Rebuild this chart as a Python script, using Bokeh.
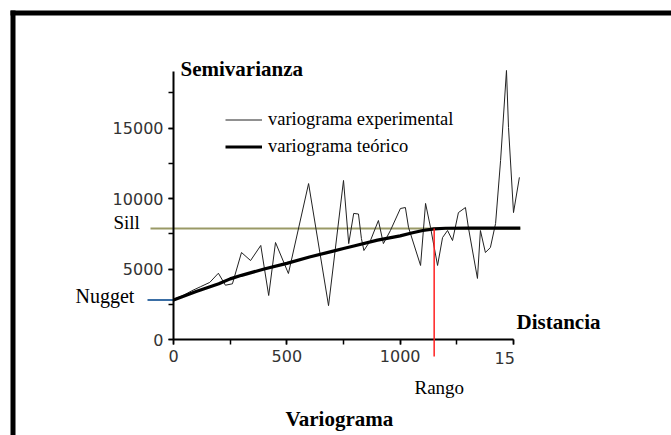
from bokeh.plotting import figure
from bokeh.models import (Range1d, LinearAxis, SingleIntervalTicker, Label, Arrow,
                          BoxAnnotation, Legend, LegendItem)
from bokeh.embed import file_html
from bokeh.resources import INLINE

# ---------------- data ----------------
exp_dist = [0, 40, 80, 120, 160, 198, 229, 260, 300, 340, 385, 420, 450, 507,
            596, 684, 750, 773, 795, 816, 829, 840, 869, 904, 926, 957, 1001,
            1023, 1037, 1090, 1112, 1134, 1165, 1187, 1209, 1231, 1257, 1288,
            1301, 1341, 1354, 1376, 1398, 1421, 1443, 1469, 1478, 1500, 1526]
exp_val = [2850, 3100, 3450, 3750, 4050, 4700, 3850, 3950, 6170, 5600, 6670,
           3120, 6880, 4680, 11060, 2400, 11280, 6800, 8940, 8900, 7160, 6310,
           7020, 8440, 6800, 7730, 9290, 9360, 7940, 5250, 9650, 7940, 5250,
           7230, 7730, 7020, 9000, 9360, 7940, 4330, 7730, 6170, 6520, 8230,
           12700, 19080, 15040, 9000, 11500]

th_dist = [0, 100, 200, 250, 300, 400, 500, 600, 700, 750, 800, 900, 1000,
           1050, 1100, 1150, 1200, 1300, 1400, 1530]
th_val = [2800, 3400, 3950, 4300, 4550, 5000, 5400, 5850, 6250, 6450, 6650,
          7050, 7350, 7550, 7730, 7850, 7890, 7900, 7900, 7900]

nugget = 2800
sill = 7880
rango = 1150
x_tick_labels = ["0", "500", "1000", "15"]

# ---------------- geometry ----------------
W, H = 671, 435
FL, FB = 173, 339            # axis origin in pixels
XU = 1500 / 340.0            # data units per px (x)
YU = 5000 / 70.5             # data units per px (y)


def px_x(px):
    return (px - FL) * XU


def px_y(py):
    return (FB - py) * YU


p = figure(width=W, height=H,
           x_range=Range1d(px_x(0), px_x(W)), y_range=Range1d(px_y(H), px_y(0)),
           output_backend="svg", toolbar_location=None,
           x_axis_type=None, y_axis_type=None, min_border=0)
p.outline_line_color = None
p.background_fill_color = "white"
p.border_fill_color = "white"

TICK_FONT = "DejaVu Sans"
SERIF = "Liberation Serif"

xaxis = LinearAxis(ticker=SingleIntervalTicker(interval=500, num_minor_ticks=2),
                   bounds=(0, 1500), fixed_location=0)
xaxis.major_label_overrides = {1500: ""}
yaxis = LinearAxis(ticker=SingleIntervalTicker(interval=5000, num_minor_ticks=2),
                   bounds=(0, 19000), fixed_location=0)
for ax in (xaxis, yaxis):
    ax.axis_line_color = "black"
    ax.axis_line_width = 2
    ax.major_tick_line_color = "black"
    ax.minor_tick_line_color = "black"
    ax.major_tick_line_width = 1.5
    ax.minor_tick_line_width = 1.5
    ax.major_tick_out = 5
    ax.major_tick_in = 0
    ax.minor_tick_out = 5
    ax.minor_tick_in = 0
    ax.major_label_text_font = TICK_FONT
    ax.major_label_text_font_size = "16px"
    ax.major_label_text_color = "#333333"
    ax.major_label_standoff = 5
p.add_layout(xaxis, "below")
p.add_layout(yaxis, "left")

# reference lines
p.line([px_x(150), th_dist[-1]], [sill, sill], line_color="#999966", line_width=2)
p.line([px_x(147), 0], [nugget, nugget], line_color="#3a6ea5", line_width=2)

r_exp = p.line(exp_dist, exp_val, line_color="#222222", line_width=1)
r_th = p.line(th_dist, th_val, line_color="black", line_width=3.2)

p.add_layout(Arrow(end=None, x_start=rango, y_start=sill, x_end=rango, y_end=px_y(356),
                   line_color="#ff2020", line_width=1.5))

legend = Legend(items=[LegendItem(label="variograma experimental", renderers=[r_exp]),
                       LegendItem(label="variograma teórico", renderers=[r_th])],
                location=(225, H - 160), padding=0, margin=0, spacing=0,
                glyph_width=37, glyph_height=27, label_height=27, label_standoff=6,
                border_line_alpha=0, background_fill_alpha=0,
                label_text_font=SERIF, label_text_font_size="18.5px",
                label_text_color="black")
p.add_layout(legend)


def txt(s, x, y, size, bold=False, align="left"):
    p.add_layout(Label(x=px_x(x), y=px_y(y), text=s, text_font=SERIF,
                       text_font_size=size, text_align=align,
                       text_baseline="alphabetic", text_color="black",
                       text_font_style="bold" if bold else "normal"))


txt("Semivarianza", 180, 68, "21px", bold=True)
txt("Distancia", 516, 321, "21px", bold=True)
txt("Variograma", 285, 418, "21px", bold=True)
txt("Sill", 113, 222, "19px")
txt("Nugget", 75, 295, "20px")
txt("Rango", 414, 387, "19px")

p.add_layout(Label(x=px_x(494), y=px_y(357), text=x_tick_labels[-1], text_font=TICK_FONT,
                   text_font_size="16px", text_baseline="middle", text_color="#333333"))

# black frame of the picture (top and left bars)
p.add_layout(BoxAnnotation(left=px_x(10), right=px_x(W + 5), top=px_y(10), bottom=px_y(15),
                           fill_color="black", fill_alpha=1, line_color=None, level="overlay"))
p.add_layout(BoxAnnotation(left=px_x(10), right=px_x(15), top=px_y(10), bottom=px_y(H + 5),
                           fill_color="black", fill_alpha=1, line_color=None, level="overlay"))

open("out.html", "w").write(file_html(p, INLINE))
